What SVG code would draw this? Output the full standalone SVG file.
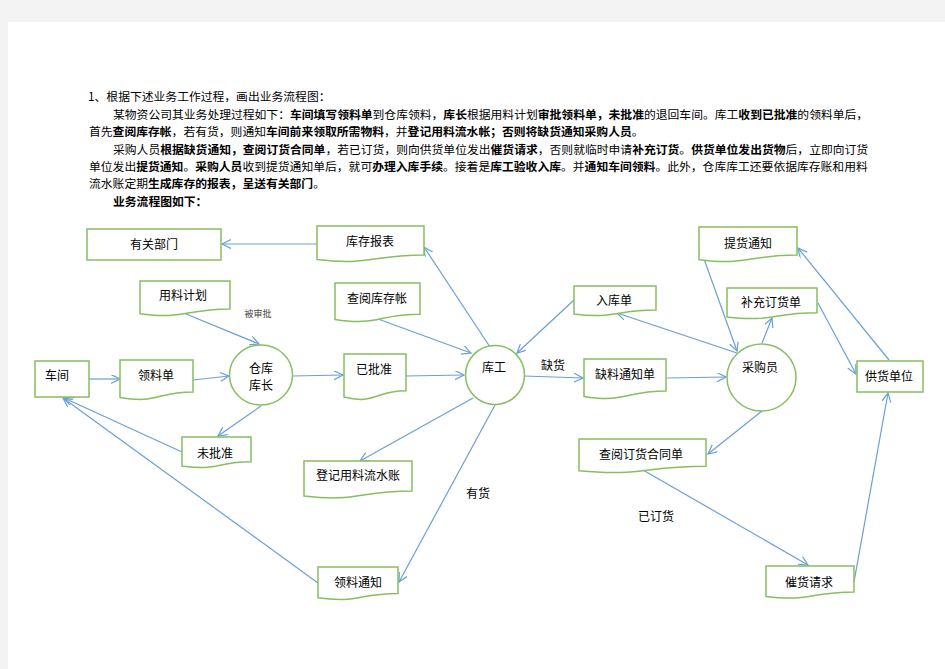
<svg xmlns="http://www.w3.org/2000/svg" width="945" height="669" viewBox="0 0 945 669">
<style>
.bg{fill:#f3f3f3}
.page{fill:#ffffff}
.nd{fill:#ffffff;stroke:#86bf60;stroke-width:1.5}
.lb{font-family:"Noto Sans CJK SC","Noto Sans",sans-serif;font-size:12px;fill:#000;text-anchor:middle;dominant-baseline:central}
.hd{font-family:"Noto Sans CJK SC","Noto Sans",sans-serif;font-size:11.8px;fill:#000;dominant-baseline:central}
.b{font-weight:bold}
.cn line{stroke:#6a9fd8;stroke-width:1.2;marker-end:url(#ar)}
.sm{font-family:"Noto Sans CJK SC","Noto Sans",sans-serif;font-size:9px;fill:#444;text-anchor:middle;dominant-baseline:central}
</style>
<defs>
<marker id="ar" markerUnits="userSpaceOnUse" markerWidth="12" markerHeight="12" refX="9" refY="4.5" orient="auto">
<path d="M0,0 L9,4.5 L0,9" fill="none" stroke="#6a9fd8" stroke-width="1.2"/>
</marker>
</defs>
<rect class="bg" x="0" y="0" width="945" height="669"/>
<rect class="page" x="8" y="22" width="937" height="647"/>

<g id="header">
<text class="hd" x="88" y="95">1、根据下述业务工作过程，画出业务流程图：</text>
<text class="hd" x="113" y="113">某物资公司其业务处理过程如下：<tspan class="b">车间填写领料单</tspan>到仓库领料，<tspan class="b">库长</tspan>根据用料计划<tspan class="b">审批领料单，未批准</tspan>的退回车间。库工<tspan class="b">收到已批准</tspan>的领料单后，</text>
<text class="hd" x="89" y="130">首先<tspan class="b">查阅库存帐</tspan>，若有货，则通知<tspan class="b">车间前来领取所需物料</tspan>，并<tspan class="b">登记用料流水帐；否则将缺货通知采购人员</tspan>。</text>
<text class="hd" x="113" y="148">采购人员<tspan class="b">根据缺货通知，查阅订货合同单</tspan>，若已订货，则向供货单位发出<tspan class="b">催货请求</tspan>，否则就临时申请<tspan class="b">补充订货</tspan>。<tspan class="b">供货单位发出货物</tspan>后，立即向订货</text>
<text class="hd" x="89" y="165">单位发出<tspan class="b">提货通知</tspan>。<tspan class="b">采购人员</tspan>收到提货通知单后，就可<tspan class="b">办理入库手续</tspan>。接着是<tspan class="b">库工验收入库</tspan>。并<tspan class="b">通知车间领料</tspan>。此外，仓库库工还要依据库存账和用料</text>
<text class="hd" x="89" y="182">流水账定期<tspan class="b">生成库存的报表，呈送有关部门</tspan>。</text>
<text class="hd b" x="113" y="200">业务流程图如下：</text>
</g>

<g id="connectors" class="cn">
<line x1="317" y1="244" x2="222" y2="244"/>
<line x1="490" y1="347" x2="424" y2="247"/>
<line x1="186" y1="314" x2="259" y2="344"/>
<line x1="89" y1="379" x2="120" y2="379"/>
<line x1="193" y1="380" x2="229" y2="376"/>
<line x1="292" y1="376" x2="343" y2="375"/>
<line x1="406" y1="376" x2="464" y2="375"/>
<line x1="378" y1="319" x2="471" y2="353"/>
<line x1="261" y1="406" x2="218" y2="436"/>
<line x1="182" y1="452" x2="64" y2="398"/>
<line x1="318" y1="583" x2="63" y2="398"/>
<line x1="473" y1="398" x2="360" y2="461"/>
<line x1="495" y1="405" x2="399" y2="582"/>
<line x1="524" y1="376" x2="583" y2="378"/>
<line x1="574" y1="300" x2="517" y2="353"/>
<line x1="667" y1="378" x2="726" y2="377"/>
<line x1="737" y1="353" x2="617" y2="313"/>
<line x1="699" y1="245" x2="737" y2="351"/>
<line x1="762" y1="343" x2="772" y2="318"/>
<line x1="818" y1="303" x2="856" y2="374"/>
<line x1="889" y1="360" x2="798" y2="248"/>
<line x1="762" y1="411" x2="708" y2="454"/>
<line x1="643" y1="470" x2="808" y2="565"/>
<line x1="854" y1="582" x2="888" y2="393"/>
</g>

<g id="labels">
<text class="lb" x="553" y="364">缺货</text>
<text class="lb" x="478" y="492">有货</text>
<text class="lb" x="656" y="515">已订货</text>
<text class="sm" x="258" y="313">被审批</text>
</g>

<g id="n-youguanbumen"><rect class="nd" x="87" y="229" width="134" height="31"/><text class="lb" x="154" y="243">有关部门</text></g>
<g id="n-kucunbaobiao"><path class="nd" d="M317,226 H424 V255 C370.5,255 370.5,265.9 317,259.6 Z"/><text class="lb" x="370" y="240">库存报表</text></g>
<g id="n-yongliaojihua"><path class="nd" d="M140,281 H230 V309 C185,309 185,319.8 140,313.7 Z"/><text class="lb" x="183" y="294">用料计划</text></g>
<g id="n-chayuekucunzhang"><path class="nd" d="M335,283 H420 V314.2 C377.5,314.2 377.5,326.2 335,319.4 Z"/><text class="lb" x="377" y="297">查阅库存帐</text></g>
<g id="n-chejian"><rect class="nd" x="35" y="361" width="54" height="36"/><text class="lb" x="45" y="374" style="text-anchor:start">车间</text></g>
<g id="n-lingliaodan"><path class="nd" d="M120,360 H193 V392 C156.5,392 156.5,404.3 120,397.4 Z"/><text class="lb" x="156" y="374">领料单</text></g>
<g id="n-cangkukuzhang"><ellipse class="nd" cx="261" cy="375" rx="31.5" ry="30"/><text class="lb" x="261" y="367">仓库</text><text class="lb" x="261" y="384">库长</text></g>
<g id="n-weipizhun"><path class="nd" d="M182,437 H251 V461.8 C216.5,461.8 216.5,471.3 182,466 Z"/><text class="lb" x="215" y="452">未批准</text></g>
<g id="n-yipizhun"><path class="nd" d="M344,354 H406 V390.8 C375,390.8 375,405 344,397 Z"/><text class="lb" x="374" y="368">已批准</text></g>
<g id="n-kugong"><circle class="nd" cx="495" cy="375" r="29.5"/><text class="lb" x="494" y="366">库工</text></g>
<g id="n-dengji"><path class="nd" d="M304,461 H412 V491 C358,491 358,502.5 304,496 Z"/><text class="lb" x="358" y="474">登记用料流水账</text></g>
<g id="n-lingliaotongzhi"><path class="nd" d="M318,567 H398 V593.4 C358,593.4 358,603.6 318,597.8 Z"/><text class="lb" x="358" y="581">领料通知</text></g>
<g id="n-rukudan"><path class="nd" d="M574,286 H656 V310 C615,310 615,319.2 574,314 Z"/><text class="lb" x="614" y="299">入库单</text></g>
<g id="n-queliao"><path class="nd" d="M584,359 H666 V391 C625,391 625,403.3 584,396.4 Z"/><text class="lb" x="625" y="373">缺料通知单</text></g>
<g id="n-tihuotongzhi"><path class="nd" d="M699,227 H797 V255 C748,255 748,265.8 699,259.7 Z"/><text class="lb" x="748" y="242">提货通知</text></g>
<g id="n-buchong"><path class="nd" d="M727,288 H817 V312.8 C772,312.8 772,322.3 727,317 Z"/><text class="lb" x="771" y="301">补充订货单</text></g>
<g id="n-caigouyuan"><ellipse class="nd" cx="761.5" cy="377.5" rx="34.5" ry="33.5"/><text class="lb" x="760" y="366">采购员</text></g>
<g id="n-gonghuodanwei"><rect class="nd" x="857" y="361" width="66" height="31"/><text class="lb" x="889" y="375">供货单位</text></g>
<g id="n-chayuedinghuo"><path class="nd" d="M579,439 H706 V466.2 C642.5,466.2 642.5,476.7 579,470.8 Z"/><text class="lb" x="641" y="453">查阅订货合同单</text></g>
<g id="n-cuihuoqingqiu"><path class="nd" d="M766,566 H854 V592 C810,592 810,602 766,596.4 Z"/><text class="lb" x="809" y="581">催货请求</text></g>
</svg>
